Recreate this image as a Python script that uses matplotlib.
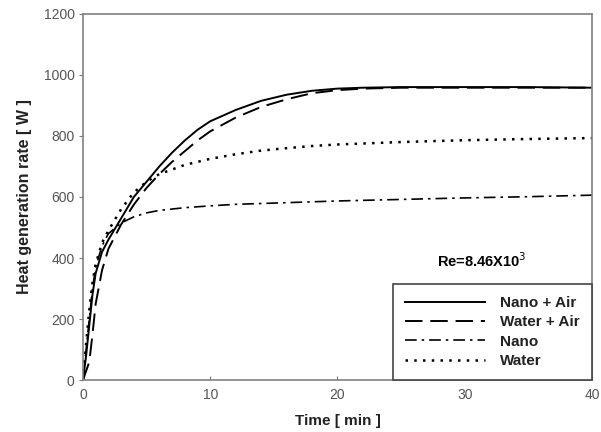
import matplotlib.pyplot as plt

plt.rcParams['font.family'] = ['Liberation Sans', 'DejaVu Sans']

# tiempos [min]
t_na = [0, 0.25, 0.5, 0.75, 1, 1.5, 2, 3, 4, 5, 6, 7, 8, 9, 10, 12, 14, 16, 18, 20, 22, 25, 30, 35, 40]
nano_air = [0, 80, 180, 280, 350, 420, 460, 530, 600, 650, 700, 745, 785, 820, 848, 885, 915, 935, 948, 955, 958, 960, 960, 960, 958]

t_wa = [0, 0.5, 0.75, 1, 1.5, 2, 3, 4, 5, 6, 7, 8, 9, 10, 12, 14, 16, 18, 20, 22, 25, 30, 35, 40]
water_air = [0, 60, 150, 250, 360, 430, 510, 575, 630, 675, 715, 750, 785, 815, 860, 895, 920, 940, 950, 955, 958, 958, 958, 958]

t_n = [0, 0.25, 0.5, 0.75, 1, 1.5, 2, 3, 4, 5, 6, 8, 10, 12, 15, 20, 25, 30, 35, 40]
nano = [0, 100, 200, 300, 370, 440, 480, 515, 535, 548, 556, 565, 571, 576, 580, 587, 592, 597, 601, 606]

t_w = [0, 0.25, 0.5, 0.75, 1, 1.5, 2, 3, 4, 5, 6, 8, 10, 12, 14, 16, 18, 20, 25, 30, 35, 40]
water = [0, 120, 230, 320, 380, 450, 490, 560, 615, 650, 675, 705, 725, 740, 752, 760, 767, 772, 780, 786, 790, 793]

fig = plt.figure(figsize=(6.01, 4.32), dpi=100)
ax = fig.add_axes([0.138, 0.120, 0.847, 0.848])

ax.plot(t_na, nano_air, color='black', lw=1.4, label='Nano + Air')
ax.plot(t_wa, water_air, color='black', lw=1.4, dashes=(9, 4), label='Water + Air')
ax.plot(t_n, nano, color='black', lw=1.2, dashes=(7, 3, 1.5, 3), label='Nano')
ax.plot(t_w, water, color='black', lw=1.8, dashes=(1, 2.5), label='Water')

ax.set_xlim(0, 40)
ax.set_ylim(0, 1200)
ax.set_xticks([0, 10, 20, 30, 40])
ax.set_yticks(range(0, 1201, 200))
ax.tick_params(axis='x', direction='in', length=3, pad=6, colors='#777777', labelcolor='#555555', labelsize=10)
ax.tick_params(axis='y', direction='out', length=3, pad=3, colors='#777777', labelcolor='#555555', labelsize=10)
for s in ax.spines.values():
    s.set_color('#808080')
    s.set_linewidth(1.2)

ax.set_xlabel('Time [ min ]', fontsize=11, fontweight='bold', color='#222222', labelpad=8)
ax.set_ylabel('Heat generation rate [ W ]', fontsize=11.5, fontweight='bold', color='#222222', labelpad=8)

ax.text(31.3, 393, 'Re=8.46X10$^3$', fontsize=10.5, fontweight='bold', ha='center', va='center')

leg = ax.legend(loc='lower right', bbox_to_anchor=(1, 0), borderaxespad=0, fancybox=False,
                framealpha=1, edgecolor='#444444', fontsize=11, handlelength=5.2,
                handletextpad=1.0, borderpad=0.8, labelspacing=0.35)
leg.get_frame().set_linewidth(1.2)
for txt in leg.get_texts():
    txt.set_fontweight('bold')
    txt.set_color('#222222')

fig.savefig('out.png', dpi=100)
